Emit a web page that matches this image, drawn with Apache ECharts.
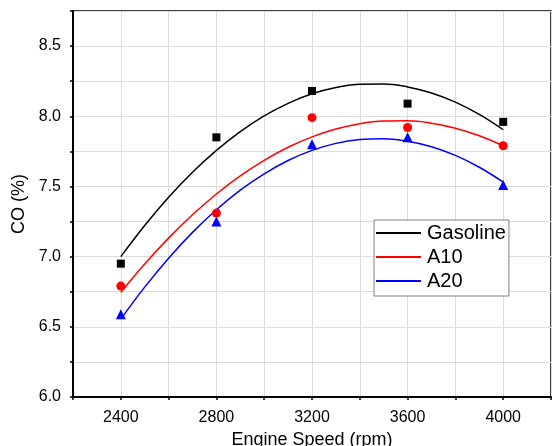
<!DOCTYPE html>
<html>
<head>
<meta charset="utf-8">
<script src="https://cdn.jsdelivr.net/npm/echarts@6/dist/echarts.min.js"></script>
<style>
  html, body { margin: 0; padding: 0; background: #fff; }
  #chart { width: 552px; height: 446px; }
</style>
</head>
<body>
<div id="chart"></div>
<script>
// measured points
const speeds = [2400, 2800, 3200, 3600, 4000]
const gasoline = [6.95, 7.85, 8.18, 8.09, 7.96]
const a10 = [6.79, 7.31, 7.99, 7.92, 7.79]
const a20 = [6.59, 7.25, 7.80, 7.85, 7.51]

// fitted curves, every 100 rpm
const fitSpeeds = [2400, 2500, 2600, 2700, 2800, 2900, 3000, 3100, 3200, 3300, 3400, 3500, 3600, 3700, 3800, 3900, 4000]
const gasolineFit = [7.000, 7.222, 7.423, 7.601, 7.757, 7.891, 8.003, 8.092, 8.160, 8.205, 8.229, 8.230, 8.209, 8.166, 8.101, 8.013, 7.904]
const a10Fit = [6.745, 6.948, 7.132, 7.298, 7.446, 7.575, 7.686, 7.779, 7.853, 7.909, 7.947, 7.966, 7.968, 7.951, 7.915, 7.861, 7.789]
const a20Fit = [6.555, 6.783, 6.989, 7.173, 7.334, 7.474, 7.590, 7.685, 7.757, 7.807, 7.834, 7.840, 7.822, 7.783, 7.721, 7.637, 7.531]

const names = ['Gasoline', 'A10', 'A20']
const colors = ['#000000', '#ff0000', '#0000ff']

const font = '"Liberation Sans", Arial, sans-serif'
const pair = (xs, ys) => xs.map((x, i) => [x, ys[i]])

const chart = echarts.init(document.getElementById('chart'))

const option = {
  animation: false,
  backgroundColor: '#fff',
  textStyle: { fontFamily: font },
  grid: {
    left: 73,
    top: 11,
    right: 1,
    bottom: 49,
    outerBoundsMode: 'none',
    show: true,
    borderColor: '#000',
    borderWidth: 1.5
  },
  legend: {
    data: names,
    orient: 'vertical',
    left: 374,
    top: 220,
    icon: 'rect',
    itemWidth: 45,
    itemHeight: 2,
    itemGap: 4,
    padding: [3, 3, 5, 2],
    borderColor: '#808080',
    borderWidth: 1,
    backgroundColor: '#fff',
    textStyle: { fontSize: 20, color: '#000', fontFamily: font, lineHeight: 20, padding: [0, 0, 0, 1] }
  },
  xAxis: {
    type: 'value',
    min: 2200,
    max: 4200,
    interval: 200,
    name: 'Engine Speed (rpm)',
    nameLocation: 'middle',
    nameGap: 31,
    nameTextStyle: { fontSize: 18, color: '#000', fontFamily: font },
    axisLine: { lineStyle: { color: '#000', width: 2 } },
    axisTick: { show: true, length: 3, lineStyle: { color: '#000', width: 1.5 } },
    axisLabel: {
      fontSize: 16,
      color: '#000',
      margin: 13,
      formatter: v => (v % 400 === 0 ? String(v) : '')
    },
    splitLine: { show: true, lineStyle: { color: '#dcdcdc', width: 1 } }
  },
  yAxis: {
    type: 'value',
    min: 6.0,
    max: 8.75,
    interval: 0.25,
    name: 'CO (%)',
    nameLocation: 'middle',
    nameGap: 40,
    nameTextStyle: { fontSize: 18, color: '#000', fontFamily: font },
    axisLine: { show: true, lineStyle: { color: '#000', width: 2 } },
    axisTick: { show: true, length: 3, lineStyle: { color: '#000', width: 1.5 } },
    axisLabel: {
      fontSize: 16,
      color: '#000',
      margin: 12,
      formatter: v => (Math.abs(v * 2 - Math.round(v * 2)) < 1e-9 && v < 8.7 ? v.toFixed(1) : '')
    },
    splitLine: { show: true, lineStyle: { color: '#dcdcdc', width: 1 } }
  },
  series: [
    {
      name: 'Gasoline', type: 'line', smooth: 0.4, showSymbol: false, symbol: 'none',
      data: pair(fitSpeeds, gasolineFit),
      lineStyle: { color: colors[0], width: 1.5 }, itemStyle: { color: colors[0] }, z: 2
    },
    {
      name: 'A10', type: 'line', smooth: 0.4, showSymbol: false, symbol: 'none',
      data: pair(fitSpeeds, a10Fit),
      lineStyle: { color: colors[1], width: 1.5 }, itemStyle: { color: colors[1] }, z: 2
    },
    {
      name: 'A20', type: 'line', smooth: 0.4, showSymbol: false, symbol: 'none',
      data: pair(fitSpeeds, a20Fit),
      lineStyle: { color: colors[2], width: 1.5 }, itemStyle: { color: colors[2] }, z: 2
    },
    {
      name: 'Gasoline data', type: 'scatter', symbol: 'rect', symbolSize: 8,
      data: pair(speeds, gasoline), itemStyle: { color: colors[0], opacity: 1 }, z: 3
    },
    {
      name: 'A10 data', type: 'scatter', symbol: 'circle', symbolSize: 9,
      data: pair(speeds, a10), itemStyle: { color: colors[1], opacity: 1 }, z: 3
    },
    {
      name: 'A20 data', type: 'scatter', symbol: 'triangle', symbolSize: 10,
      data: pair(speeds, a20), itemStyle: { color: colors[2], opacity: 1 }, z: 3
    }
  ]
}

chart.setOption(option)
</script>
</body>
</html>
